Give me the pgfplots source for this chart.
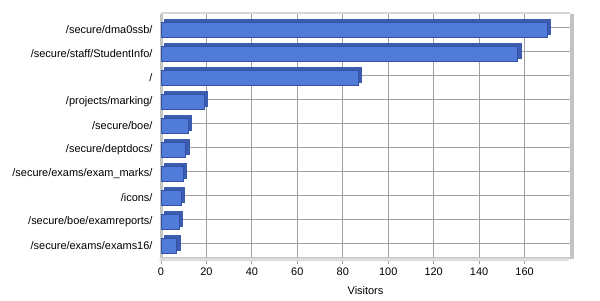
\documentclass[border=0pt]{standalone}
\usepackage{pgfplots}
\pgfplotsset{compat=1.18}
\usepackage{fontspec}
\setmainfont{Liberation Sans}
\definecolor{barface}{RGB}{80,123,217}
\definecolor{baredge}{RGB}{52,82,165}
\definecolor{barside}{RGB}{60,92,175}
\definecolor{gridc}{RGB}{160,160,160}
\definecolor{wallc}{RGB}{196,196,196}
\begin{document}
\begin{tikzpicture}[x=1bp,y=1bp]
\path[use as bounding box] (0,0) rectangle (600,300);
\begin{axis}[
  at={(161bp,42bp)}, anchor=south west,
  scale only axis, width=409bp, height=244bp,
  xmin=0, xmax=180, ymin=-0.625, ymax=9.542,
  xtick={0,20,40,60,80,100,120,140,160},
  ytick={0,1,2,3,4,5,6,7,8,9},
  yticklabels={/secure/exams/exams16/,/secure/boe/examreports/,/icons/,/secure/exams/exam\_marks/,/secure/deptdocs/,/secure/boe/,/projects/marking/,/,/secure/staff/StudentInfo/,/secure/dma0ssb/},
  xmajorgrids, ymajorgrids,
  major grid style={draw=gridc, line width=0.9bp},
  axis line style={draw=wallc, line width=1.2bp},
  axis x line*=bottom, axis y line*=left,
  tick align=outside,
  x tick style={draw=gridc, line width=0.8bp},
  xtick style={yshift=-2bp},
  y tick style={draw=none},
  major tick length=4bp,
  /pgf/number format/assume math mode=true,
  ticklabel style={font=\fontsize{11}{13}\selectfont, text=black},
  xticklabel style={yshift=-2bp},
  yticklabel style={xshift=-1bp, yshift=-2.5bp},
  xlabel={Visitors},
  xlabel style={font=\fontsize{11}{13}\selectfont, yshift=-4bp},
  clip=false,
]
% right and top wall edges
\draw[wallc, line width=4bp] ([xshift=2bp,yshift=-1bp]rel axis cs:1,0) -- ([xshift=2bp]rel axis cs:1,1);
\draw[wallc!70, line width=1.5bp] ([yshift=1bp]rel axis cs:0,1) -- ([yshift=1bp]rel axis cs:1,1);
\fill[wallc!60] (rel axis cs:0,0) -- ([xshift=-2bp,yshift=-3bp]rel axis cs:0,0) -- ([xshift=-2bp,yshift=-3bp]rel axis cs:1,0) -- (rel axis cs:1,0) -- cycle;
\fill[wallc] (rel axis cs:0,0) rectangle ([xshift=2bp]rel axis cs:0,1);
% side/top (depth) of bars
\addplot[xbar, bar width=15bp, bar shift=0.5bp, xshift=3bp, fill=barside, draw=barside, line width=0.5bp]
  coordinates {(7,0) (8,1) (9,2) (10,3) (11,4) (12,5) (19,6) (87,7) (157,8) (170,9)};
% front faces
\addplot[xbar, bar width=15bp, bar shift=-2.5bp, fill=barface, draw=baredge, line width=1bp]
  coordinates {(7,0) (8,1) (9,2) (10,3) (11,4) (12,5) (19,6) (87,7) (157,8) (170,9)};
\end{axis}
\end{tikzpicture}
\end{document}
